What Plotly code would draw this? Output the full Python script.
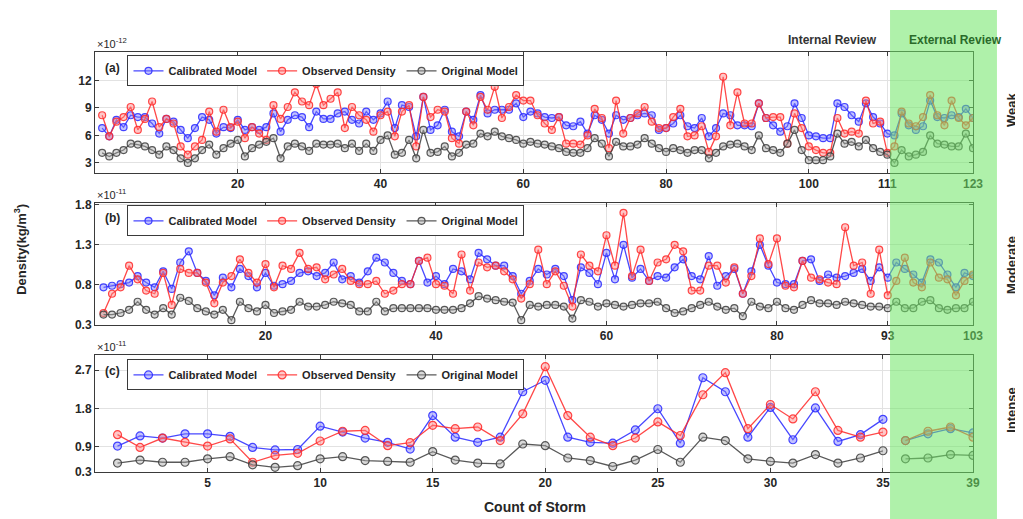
import plotly.graph_objects as go

# ---------------- data ----------------
# Panel (a) Weak storms, values x 1e-12
weak_observed = [8.2, 5.9, 7.5, 8.0, 9.1, 6.6, 7.8, 9.7, 6.9, 7.8, 7.3, 4.8, 3.9, 4.8, 5.5, 8.6, 6.4, 8.8, 6.9, 7.5,
                 5.7, 6.9, 6.2, 5.5, 9.3, 7.8, 9.1, 10.7, 9.7, 9.3, 11.6, 9.3, 10.0, 10.7, 6.8, 9.1, 8.2, 7.7, 6.4, 8.2,
                 8.6, 5.9,
                 8.6, 9.3, 4.8, 10.2, 8.0, 8.8, 8.6, 5.7, 5.1, 8.6, 7.1, 10.2, 8.8, 11.3, 7.9, 9.1, 10.4, 9.8, 9.8, 8.2,
                 7.3, 6.6, 8.0, 5.1, 5.1, 5.0, 6.0, 8.9, 7.9, 4.6, 9.8, 6.2, 7.9, 8.4, 9.1, 7.5, 6.8, 6.8, 8.0, 8.9,
                 5.9, 6.0, 7.0, 4.2, 5.9, 12.4, 7.1, 10.7, 7.3, 7.3, 9.5, 7.9, 8.0, 8.0, 5.1, 8.4, 6.8, 4.8, 4.4, 4.1,
                 4.1, 7.9, 6.2, 6.4, 6.2, 9.8, 7.3, 7.5, 4.1, 4.8, 8.6, 7.3, 7.0, 8.0, 10.4, 8.2, 7.1, 9.8, 7.9, 7.1,
                 7.9]
weak_calibrated = [6.8, 5.9, 7.7, 6.9, 8.2, 8.0, 8.0, 7.3, 6.2, 7.8, 7.5, 6.6, 5.7, 6.8, 8.0, 7.7, 6.2, 6.9, 6.8, 7.7,
                   6.6, 6.9, 6.6, 6.9, 8.4, 6.4, 7.7, 8.2, 8.0, 6.9, 8.6, 7.8, 7.8, 8.4, 8.6, 7.7, 7.3, 8.6, 7.7, 8.4,
                   9.7, 6.8,
                   9.3, 9.1, 5.9, 10.2, 6.6, 7.1, 8.8, 6.4, 5.9, 8.6, 7.7, 10.4, 8.4, 8.8, 8.8, 8.8, 9.5, 8.0, 8.6, 8.4,
                   8.0, 7.9, 8.0, 7.1, 7.0, 7.5, 6.2, 8.2, 7.7, 6.2, 8.2, 7.7, 7.9, 8.2, 8.4, 8.2, 6.6, 6.8, 7.3, 8.2,
                   7.0, 6.8, 7.9, 5.9, 6.8, 8.4, 8.2, 7.1, 7.1, 7.0, 9.5, 7.9, 7.1, 6.4, 7.0, 9.5, 7.9, 6.0, 5.9, 5.7,
                   5.7, 9.5, 9.1, 8.2, 7.5, 9.5, 8.0, 7.3, 6.2, 6.0, 8.4, 7.1, 6.6, 7.0, 9.8, 8.0, 7.9, 8.2, 8.0, 8.9,
                   7.9]
weak_original = [4.1, 3.7, 4.1, 4.4, 5.1, 5.0, 4.8, 4.4, 3.9, 4.8, 4.4, 3.5, 3.0, 3.5, 4.4, 5.0, 3.9, 4.6, 5.1, 5.5,
                 3.7, 4.6, 5.0, 5.3, 5.7, 3.5, 4.8, 5.1, 4.8, 4.3, 5.1, 5.0, 5.0, 5.1, 4.6, 5.1, 4.3, 5.1, 4.3, 5.5,
                 6.0, 3.9,
                 4.1, 5.5, 3.5, 6.6, 4.1, 4.2, 4.8, 3.7, 4.1, 5.0, 5.1, 6.2, 5.9, 6.4, 5.9, 5.7, 5.5, 5.1, 5.3, 5.1,
                 5.0, 4.8, 4.6, 4.2, 4.1, 4.1, 4.6, 5.7, 5.1, 3.7, 5.3, 4.8, 4.8, 5.0, 5.7, 5.1, 4.6, 4.2, 4.6, 4.4,
                 4.1, 4.4, 4.4, 3.5, 4.1, 4.8, 5.0, 5.1, 4.8, 4.4, 6.0, 4.6, 4.4, 4.1, 5.1, 6.6, 4.4, 3.3, 3.3, 3.3,
                 3.7, 6.2, 5.1, 5.3, 4.8, 5.5, 4.6, 4.2, 3.9, 3.0, 4.4, 3.7, 3.9, 4.2, 6.0, 5.1, 5.0, 4.8, 4.8, 6.2,
                 4.6]

# Panel (b) Moderate storms, values x 1e-11
moderate_calibrated = [0.77, 0.79, 0.81, 0.83, 0.91, 0.83, 0.77, 0.97, 0.75, 1.08, 1.22, 0.95, 0.85, 0.67, 0.89,
                       0.77, 1.00, 0.91, 0.77, 0.95, 0.79, 0.81, 0.85, 0.95, 0.97, 0.91, 0.95, 1.08, 0.87, 0.91,
                       0.83, 0.97, 1.14, 1.08, 0.95,
                       0.85, 0.81, 1.10, 0.83, 0.91, 0.81, 1.00, 0.97, 0.87, 1.20, 1.12, 1.04, 1.04, 0.91, 0.69,
                       0.85, 1.00, 0.93, 1.00, 0.91, 0.61, 1.02, 0.95, 0.81, 1.20, 0.87, 1.30, 0.89, 1.00, 0.85,
                       0.91, 0.89, 1.02, 1.12, 0.91,
                       0.87, 1.16, 0.79, 0.91, 1.00, 0.69, 0.97, 1.30, 1.04, 0.83, 0.81, 0.81, 1.10, 1.12, 0.85,
                       0.93, 0.89, 0.91, 0.95, 1.00, 0.85, 1.02, 0.89, 1.08, 1.00, 0.93, 0.83, 1.12, 1.08, 0.93,
                       0.77, 0.95, 0.91]
moderate_observed = [0.45, 0.69, 0.77, 1.04, 0.87, 0.73, 0.69, 0.95, 0.55, 1.00, 0.95, 0.95, 0.83, 0.57, 0.83,
                     0.91, 1.12, 0.95, 0.83, 1.06, 0.77, 1.04, 1.00, 1.20, 1.00, 1.02, 0.87, 0.93, 1.00, 0.85,
                     0.81, 0.81, 0.85, 0.69, 0.73,
                     0.81, 0.81, 1.10, 1.14, 0.81, 0.79, 0.69, 1.18, 0.73, 1.08, 1.02, 1.04, 0.97, 0.87, 0.63,
                     0.81, 1.24, 0.81, 0.97, 0.79, 0.53, 1.18, 1.04, 0.97, 1.42, 1.04, 1.70, 0.91, 1.24, 0.85,
                     1.08, 1.12, 1.30, 1.22, 0.73,
                     0.73, 1.04, 1.04, 0.83, 1.02, 0.69, 0.91, 1.38, 1.06, 1.38, 0.79, 0.77, 1.10, 0.89, 0.87,
                     0.83, 0.81, 1.52, 1.04, 1.08, 0.69, 1.24, 0.67, 0.85, 1.14, 0.83, 0.77, 1.08, 0.89, 0.87,
                     0.67, 0.85, 0.93]
moderate_original = [0.43, 0.43, 0.45, 0.49, 0.59, 0.49, 0.43, 0.51, 0.43, 0.64, 0.60, 0.51, 0.47, 0.43, 0.49,
                     0.36, 0.59, 0.51, 0.47, 0.55, 0.45, 0.47, 0.49, 0.59, 0.53, 0.53, 0.55, 0.59, 0.57, 0.55,
                     0.47, 0.47, 0.59, 0.47, 0.51, 0.51, 0.51, 0.51, 0.51, 0.49, 0.49, 0.49, 0.51, 0.57, 0.66,
                     0.63, 0.61, 0.59, 0.58,
                     0.36, 0.55, 0.53, 0.55, 0.55, 0.53, 0.38, 0.61, 0.59, 0.53, 0.57, 0.55, 0.53, 0.55, 0.57,
                     0.57, 0.59, 0.51, 0.45, 0.47, 0.51, 0.55, 0.59, 0.53, 0.49, 0.51, 0.41, 0.59, 0.53, 0.51,
                     0.59, 0.51, 0.49, 0.55, 0.61, 0.57, 0.57, 0.55, 0.59, 0.57, 0.55, 0.53, 0.53, 0.51, 0.59,
                     0.51, 0.51, 0.59, 0.61, 0.51, 0.49, 0.51, 0.51, 0.59]

# Panel (c) Intense storms, values x 1e-11
intense_calibrated = [0.91, 1.15, 1.10, 1.20, 1.20, 1.14, 0.88, 0.82, 0.83, 1.38, 1.24, 1.10, 1.00, 0.84, 1.63,
                      1.12, 1.00, 1.12, 2.19, 2.46, 1.12, 1.00, 0.98, 1.29, 1.79, 0.98, 2.52, 2.19, 1.12, 1.82,
                      1.06, 1.81, 1.02, 1.18, 1.54, 1.04, 1.20, 1.32, 1.22]
intense_observed = [1.18, 0.88, 1.10, 1.00, 0.91, 1.08, 0.53, 0.69, 0.74, 1.03, 1.26, 1.28, 0.92, 0.99, 1.40,
                    1.32, 1.36, 1.04, 1.67, 2.78, 1.63, 1.12, 0.92, 1.10, 1.48, 1.16, 2.12, 2.64, 1.32, 1.89,
                    1.55, 2.19, 1.28, 1.12, 1.24, 1.04, 1.26, 1.36, 1.12]
intense_original = [0.51, 0.58, 0.53, 0.53, 0.61, 0.66, 0.47, 0.41, 0.45, 0.61, 0.66, 0.57, 0.55, 0.53, 0.78,
                    0.58, 0.51, 0.49, 0.96, 0.92, 0.63, 0.57, 0.43, 0.58, 0.83, 0.53, 1.12, 1.04, 0.61, 0.55,
                    0.51, 0.71, 0.51, 0.63, 0.80, 0.61, 0.63, 0.71, 0.69]

weak_ticks = [20, 40, 60, 80, 100, 111, 123]
moderate_ticks = [20, 40, 60, 80, 93, 103]
intense_ticks = [5, 10, 15, 20, 25, 30, 35, 39]
intense_split = 35  # lines break between internal and external review

series_names = ["Calibrated Model", "Observed Density", "Original Model"]

# ---------------- styling ----------------
FONT = "Liberation Sans"
line_cols = ["rgba(40,40,255,0.85)", "rgba(255,40,40,0.85)", "rgba(60,60,60,0.85)"]
fill_cols = ["rgba(120,120,255,0.45)", "rgba(255,130,130,0.45)", "rgba(170,170,170,0.45)"]

fig = go.Figure()

panels = [
    ("x", "y", "legend", [weak_calibrated, weak_observed, weak_original], None),
    ("x2", "y2", "legend2", [moderate_calibrated, moderate_observed, moderate_original], None),
    ("x3", "y3", "legend3", [intense_calibrated, intense_observed, intense_original], intense_split),
]

for xa, ya, leg, series, split in panels:
    for k, vals in enumerate(series):
        xs = list(range(1, len(vals) + 1))
        ys = list(vals)
        if split is not None:
            xs = xs[:split] + [None] + xs[split:]
            ys = ys[:split] + [None] + ys[split:]
        fig.add_trace(go.Scatter(
            x=xs, y=ys, mode="lines+markers", name="<b>" + series_names[k] + "</b>",
            xaxis=xa, yaxis=ya, legend=leg, connectgaps=False,
            line=dict(color=line_cols[k], width=1.3),
            marker=dict(symbol="circle", size=7 if split is None else 8, color=fill_cols[k],
                        line=dict(color=line_cols[k], width=1.2)),
        ))

axis_common = dict(showline=True, linecolor="#3a3a3a", linewidth=1, mirror="ticks", ticks="inside",
                   ticklen=4, tickcolor="#3a3a3a", showgrid=True, gridcolor="#e2e2e2", gridwidth=1,
                   zeroline=False, tickfont=dict(family=FONT, size=12, color="#262626", weight="bold"))

dom_a = [0.712, 1.0]
dom_b = [0.35, 0.640]
dom_c = [0.0, 0.279]

# the page body has an 8px margin, so the figure is 8px smaller and its left/top margins shrink by 8
fig.update_layout(
    width=1015, height=511,
    margin=dict(l=87, r=50, t=44, b=47),
    paper_bgcolor="white", plot_bgcolor="white",
    font=dict(family=FONT, size=12, color="#262626"),
    xaxis=dict(axis_common, domain=[0, 1], anchor="y", range=[0, 123], tickvals=weak_ticks,
               ticktext=[str(t) for t in weak_ticks]),
    yaxis=dict(axis_common, domain=dom_a, anchor="x", range=[1.9, 15.1], tickvals=[3, 6, 9, 12],
               ticktext=["3", "6", "9", "12"]),
    xaxis2=dict(axis_common, domain=[0, 1], anchor="y2", range=[0, 103], tickvals=moderate_ticks,
                ticktext=[str(t) for t in moderate_ticks]),
    yaxis2=dict(axis_common, domain=dom_b, anchor="x2", range=[0.3, 1.82], tickvals=[0.3, 0.8, 1.3, 1.8],
                ticktext=["0.3", "0.8", "1.3", "1.8"]),
    xaxis3=dict(axis_common, domain=[0, 1], anchor="y3", range=[0, 39], tickvals=intense_ticks,
                ticktext=[str(t) for t in intense_ticks]),
    yaxis3=dict(axis_common, domain=dom_c, anchor="x3", range=[0.3, 3.06], tickvals=[0.3, 0.9, 1.8, 2.7],
                ticktext=["0.3", "0.9", "1.8", "2.7"]),
)

legend_common = dict(orientation="h", xanchor="left", yanchor="top", bgcolor="white",
                     bordercolor="#3a3a3a", borderwidth=1, font=dict(family=FONT, size=11, color="#262626"),
                     itemwidth=30, tracegroupgap=0)
fig.update_layout(
    legend=dict(legend_common, x=0.037, y=0.992),
    legend2=dict(legend_common, x=0.037, y=0.635),
    legend3=dict(legend_common, x=0.037, y=0.268),
)

# green external-review overlay
fig.add_shape(type="rect", xref="paper", yref="paper", x0=0.9055, x1=1.0273, y0=-0.12, y1=1.1,
              fillcolor="rgba(110,230,100,0.55)", line=dict(width=0), layer="above")

ann = []
def add_ann(text, x, y, size=12, bold=True, color="#262626", angle=0, xanchor="center", yanchor="middle"):
    ann.append(dict(text=text, x=x, y=y, xref="paper", yref="paper", showarrow=False,
                    textangle=angle, xanchor=xanchor, yanchor=yanchor,
                    font=dict(family=FONT, size=size, color=color, weight="bold" if bold else "normal")))

add_ann("(a)", 0.0205, 0.962)
add_ann("(b)", 0.0205, 0.605)
add_ann("(c)", 0.0205, 0.241)
add_ann("×10<sup>-12</sup>", 0.0, 1.0, size=11, bold=False, xanchor="left", yanchor="bottom")
add_ann("×10<sup>-11</sup>", 0.0, dom_b[1], size=11, bold=False, xanchor="left", yanchor="bottom")
add_ann("×10<sup>-11</sup>", 0.0, dom_c[1], size=11, bold=False, xanchor="left", yanchor="bottom")
add_ann("Internal Review", 0.8405, 1.029, size=12, color="#333333")
add_ann("External Review", 0.9795, 1.029, size=12, color="#2a6a2a")
add_ann("Weak", 1.0444, 0.862, size=13, angle=-90)
add_ann("Moderate", 1.0444, 0.493, size=13, angle=-90)
add_ann("Intense", 1.0444, 0.148, size=13, angle=-90)
add_ann("Density(kg/m<sup>3</sup>)", -0.0854, 0.529, size=13, angle=-90)
add_ann("Count of Storm", 0.501, -0.083, size=14)
fig.update_layout(annotations=ann)

fig.write_html("out.html")
